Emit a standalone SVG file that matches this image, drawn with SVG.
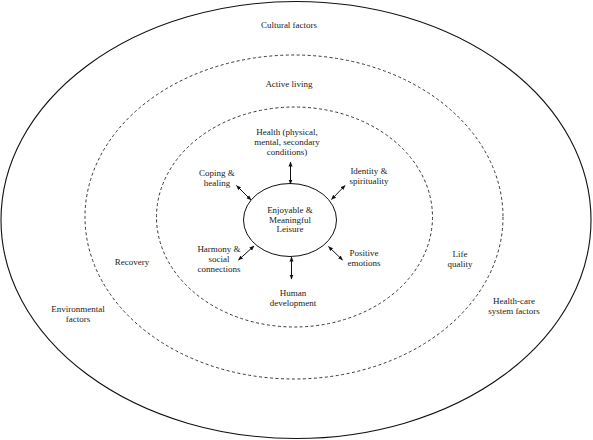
<svg xmlns="http://www.w3.org/2000/svg" width="593" height="440" viewBox="0 0 593 440">
<style>
text{font-family:"Liberation Serif","Times New Roman",serif;font-size:9px;fill:#222;text-anchor:middle}
.ring{fill:none;stroke:#222;stroke-width:0.9;stroke-dasharray:3 2.5}
.outer{fill:none;stroke:#111;stroke-width:1.1}
.conn{stroke:#111;stroke-width:1;marker-start:url(#ah);marker-end:url(#ah)}
</style>
<defs>
<marker id="ah" viewBox="0 0 10 10" refX="9" refY="5" markerWidth="5" markerHeight="5" orient="auto-start-reverse" markerUnits="userSpaceOnUse">
<path d="M0,1 L10,5 L0,9 z" fill="#111"/>
</marker>
</defs>
<rect width="593" height="440" fill="#fff"/>
<g id="outer-ring">
<ellipse class="outer" cx="296" cy="220" rx="295" ry="218.5"/>
<text x="289" y="28">Cultural factors</text>
<text x="78" y="312">Environmental</text>
<text x="78" y="322">factors</text>
<text x="514" y="304">Health-care</text>
<text x="514" y="314">system factors</text>
</g>
<g id="middle-ring">
<ellipse class="ring" cx="294" cy="217" rx="209" ry="162"/>
<text x="289" y="87">Active living</text>
<text x="132" y="265">Recovery</text>
</g>
<g id="inner-ring">
<ellipse class="ring" cx="294.5" cy="217" rx="138" ry="110"/>
<text x="460" y="257">Life</text>
<text x="460" y="267">quality</text>
</g>
<g id="center">
<ellipse fill="none" stroke="#111" stroke-width="1" cx="290" cy="220" rx="46.5" ry="36.5"/>
<text x="290" y="213">Enjoyable &amp;</text>
<text x="290" y="223">Meaningful</text>
<text x="290" y="232">Leisure</text>
</g>
<g id="health">
<text x="287" y="135">Health (physical,</text>
<text x="287" y="145">mental, secondary</text>
<text x="287" y="155">conditions)</text>
</g>
<g id="coping">
<text x="217" y="176">Coping &amp;</text>
<text x="217" y="186">healing</text>
</g>
<g id="identity">
<text x="369" y="174">Identity &amp;</text>
<text x="369" y="184">spirituality</text>
</g>
<g id="harmony">
<text x="219" y="252">Harmony &amp;</text>
<text x="219" y="262">social</text>
<text x="219" y="272">connections</text>
</g>
<g id="positive">
<text x="364" y="256">Positive</text>
<text x="364" y="266">emotions</text>
</g>
<g id="human">
<text x="293" y="296">Human</text>
<text x="293" y="306">development</text>
</g>
<g id="connectors">
<line class="conn" x1="290.5" y1="162" x2="290.5" y2="184"/>
<line class="conn" x1="291.5" y1="257" x2="291.5" y2="279"/>
<line class="conn" x1="236.5" y1="185.5" x2="251" y2="200"/>
<line class="conn" x1="345" y1="185.5" x2="331.5" y2="199.5"/>
<line class="conn" x1="254" y1="246" x2="238.5" y2="260"/>
<line class="conn" x1="328.5" y1="246.5" x2="342.5" y2="260"/>
</g>
</svg>
